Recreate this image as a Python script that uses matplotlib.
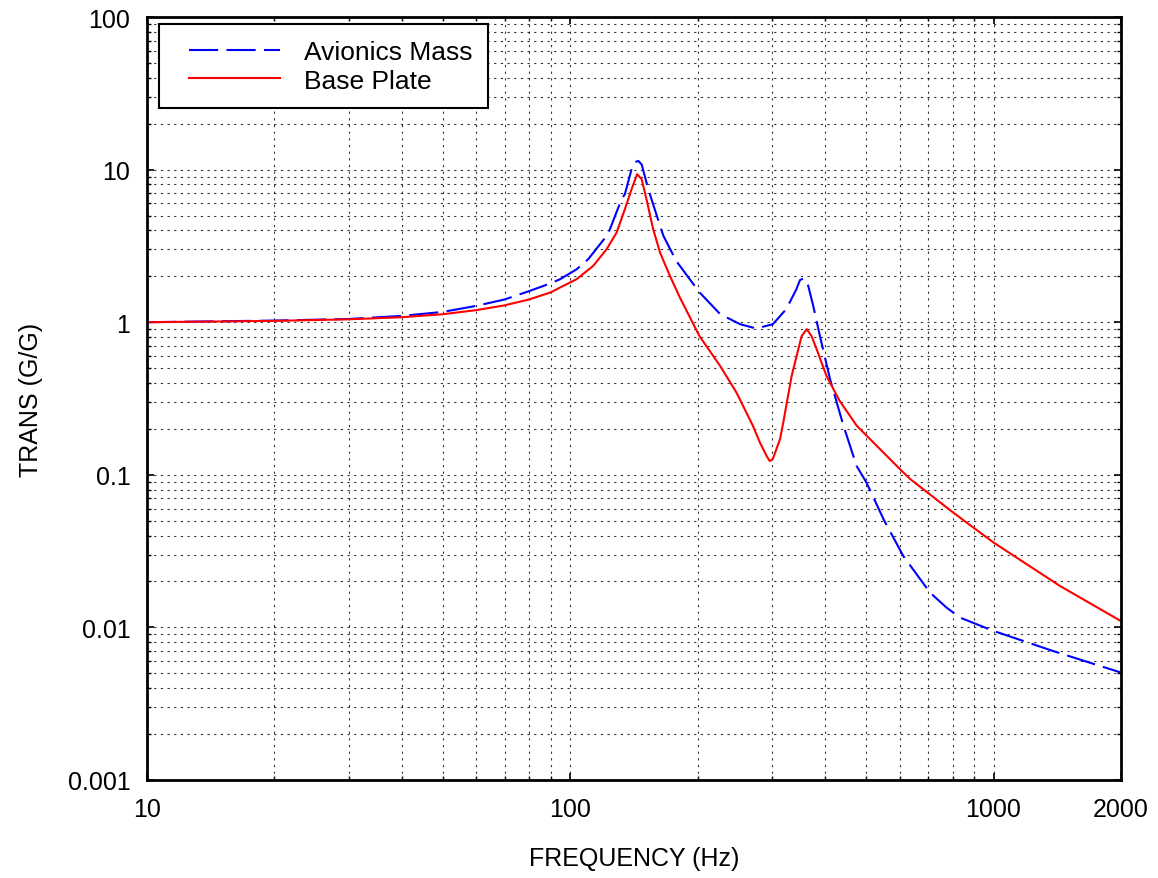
import matplotlib.pyplot as plt
from matplotlib.ticker import FixedLocator, FixedFormatter, LogLocator, NullFormatter
from matplotlib.lines import Line2D
from matplotlib.legend_handler import HandlerLine2D
import matplotlib as mpl

mpl.rcParams['font.family'] = ['Liberation Sans', 'DejaVu Sans']

# values
freq_avionics = [10, 20, 30, 40, 50, 60, 70, 80, 90, 94.6, 103.5, 110.3, 121.9, 124.1, 132.2,
                 134.6, 139.6, 142.2, 144.8, 147.5, 152.9, 155.6, 163, 166, 178, 202, 226,
                 252, 275, 301, 324, 342, 349, 355, 360.4, 365, 375, 389, 411, 442, 475, 501,
                 550, 612, 708, 774, 833, 998, 1383, 2000]
trans_avionics = [1.0, 1.025, 1.05, 1.10, 1.168, 1.28, 1.41, 1.6, 1.8, 1.913, 2.22, 2.59, 3.68,
                  4.07, 6.4, 6.9, 10.06, 11.2, 11.4, 10.8, 7.44, 6.4, 4.28, 3.68, 2.52, 1.57,
                  1.13, 0.97, 0.91, 0.97, 1.22, 1.64, 1.89, 1.93, 1.89, 1.73, 1.28, 0.81, 0.423,
                  0.21, 0.114, 0.089, 0.051, 0.0294, 0.0169, 0.0135, 0.0116, 0.0095, 0.0070,
                  0.00506]

freq_base = [10, 20, 30, 40, 50, 60, 70, 80, 90, 94.6, 103.5, 113.3, 121.9, 128.7, 134.6,
             139.6, 143.9, 147.5, 151.4, 157, 163, 172, 181.6, 202, 226, 247, 270, 280.5,
             291, 296, 301, 313, 318.6, 333.5, 352, 362, 371.7, 382, 403, 433, 475, 520, 601,
             635, 800, 1000, 1435, 2000]
trans_base = [1.0, 1.02, 1.045, 1.078, 1.128, 1.2, 1.29, 1.41, 1.57, 1.688, 1.913, 2.34, 3.01,
              3.87, 5.5, 7.44, 9.33, 8.65, 6.4, 4.07, 2.86, 2.01, 1.45, 0.81, 0.517, 0.346,
              0.21, 0.163, 0.133, 0.123, 0.127, 0.171, 0.22, 0.445, 0.81, 0.9, 0.81, 0.666,
              0.445, 0.305, 0.21, 0.163, 0.109, 0.094, 0.057, 0.036, 0.0187, 0.011]

x_ticks = [10, 100, 1000, 2000]
x_labels = ['10', '100', '1000', '2000']
y_ticks = [0.001, 0.01, 0.1, 1, 10, 100]
y_labels = ['0.001', '0.01', '0.1', '1', '10', '100']

fontsize = 18

fig = plt.figure(figsize=(11.58, 8.79), dpi=100)
ax = fig.add_axes([0.1269, 0.1115, 0.8411, 0.868])

ax.plot(freq_avionics, trans_avionics, color='#0000ff', lw=1.5,
        linestyle=(0, (14, 4)), label='Avionics Mass')
ax.plot(freq_base, trans_base, color='#ff0000', lw=1.5, label='Base Plate')

ax.set_xscale('log')
ax.set_yscale('log')
ax.set_xlim(10, 2000)
ax.set_ylim(0.001, 100)

ax.xaxis.set_major_locator(FixedLocator(x_ticks))
ax.xaxis.set_major_formatter(FixedFormatter(x_labels))
ax.xaxis.set_minor_locator(LogLocator(base=10, subs=range(2, 10)))
ax.xaxis.set_minor_formatter(NullFormatter())
ax.yaxis.set_major_locator(FixedLocator(y_ticks))
ax.yaxis.set_major_formatter(FixedFormatter(y_labels))
ax.yaxis.set_minor_locator(LogLocator(base=10, subs=range(2, 10)))
ax.yaxis.set_minor_formatter(NullFormatter())

ax.grid(True, which='both', color='black', linestyle=(0, (2, 4)), lw=0.8, alpha=0.8)
ax.tick_params(which='both', direction='in', top=True, right=True, labelsize=fontsize)
ax.tick_params(which='major', length=5, width=1.2)
ax.tick_params(which='minor', length=3, width=1)
ax.tick_params(axis='x', pad=12)
ax.tick_params(axis='y', pad=12)
for s in ax.spines.values():
    s.set_linewidth(2)

ax.set_xlabel('FREQUENCY (Hz)', fontsize=fontsize, labelpad=18)
ax.set_ylabel('TRANS (G/G)', fontsize=fontsize, labelpad=18)

leg = ax.legend(loc='upper left', bbox_to_anchor=(12 / 974, 1 - 7 / 763), borderaxespad=0,
                fontsize=19, fancybox=False, framealpha=1, edgecolor='black',
                handlelength=3.98, borderpad=0.6, labelspacing=0.18, handletextpad=0.91,
                handler_map={Line2D: HandlerLine2D(xpad=0.54)})
leg.get_frame().set_linewidth(1.5)

fig.savefig('out.png', dpi=100)
